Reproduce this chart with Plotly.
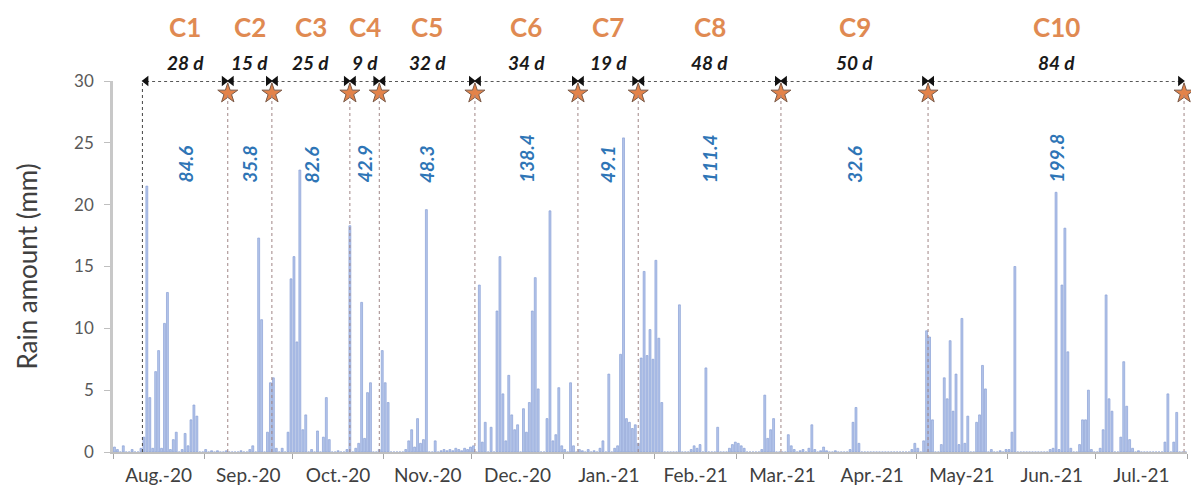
import pandas as pd
import plotly.graph_objects as go

# daily rain (mm), one list per month
aug20 = [0.4, 0.2, 0, 0.5, 0, 0, 0.2, 0, 0, 0.3, 1.2, 21.5, 4.4, 0.3, 6.5, 8.2, 0.3, 10.4, 12.9, 0.2,
         1.0, 1.6, 0, 0.2, 1.5, 0.5, 2.6, 3.8, 2.9, 0, 0]
sep20 = [0.2, 0, 0.1, 0, 0.1, 0, 0, 0.1, 0, 0, 0, 0, 0.1, 0, 0, 0.2, 0.5, 0, 17.3, 10.7,
         0, 1.6, 5.6, 6.0, 0.3, 0, 0.3, 0, 1.6, 14.0]
oct20 = [15.8, 8.9, 22.8, 1.8, 3.0, 0, 0.2, 0, 1.7, 0, 1.2, 4.4, 1.0, 0, 0, 0.1, 0, 0, 0.2, 18.3,
         0, 0.3, 0.7, 12.1, 1.1, 4.8, 5.6, 0, 0, 0.2, 8.2]
nov20 = [5.6, 4.0, 0, 0, 0, 0, 0, 0.2, 0.9, 1.8, 0.4, 2.7, 0.7, 1.0, 19.6, 0, 0, 0.9, 0, 0.1,
         0.2, 0.1, 0.2, 0.1, 0.3, 0.2, 0.1, 0.3, 0.2, 0.4]
dec20 = [0.5, 0, 13.5, 0.8, 2.4, 0, 2.0, 0, 11.4, 15.8, 4.7, 0.9, 6.2, 3.0, 1.8, 2.2, 0, 3.5, 1.6, 4.0,
         11.4, 14.1, 5.1, 0, 0, 2.7, 19.5, 0.9, 1.4, 5.2, 0.5]
jan21 = [0.2, 0, 5.6, 0.5, 0, 0.2, 0.1, 0, 0.2, 0, 0.1, 0, 0.3, 0.9, 0, 6.3, 0, 0.3, 0.5, 7.9,
         25.4, 2.7, 2.4, 1.9, 2.2, 0.7, 7.6, 14.6, 7.8, 9.9, 7.5]
feb21 = [15.5, 9.2, 4.0, 0, 0, 0, 0, 0, 11.9, 0, 0, 0, 0.2, 0.5, 0.3, 0.6, 0, 6.8, 0, 0,
         0, 2.0, 0, 0, 0, 0.3, 0.6, 0.8]
mar21 = [0.7, 0.5, 0.3, 0, 0, 0, 0, 0, 0.2, 4.6, 1.1, 1.8, 2.7, 0, 0, 0, 0, 1.4, 0.5, 0.2,
         0, 0.1, 0.2, 0, 0.3, 2.2, 0.2, 0, 0.1, 0.4, 0.1]
apr21 = [0, 0, 0.1, 0, 0, 0, 0, 0.2, 2.4, 3.6, 0.7, 0, 0, 0, 0, 0, 0, 0, 0, 0,
         0, 0, 0, 0, 0, 0, 0, 0, 0.2, 0.7]
may21 = [0.3, 0, 0.9, 9.8, 9.3, 2.6, 0, 0, 0.6, 6.0, 4.3, 9.0, 3.3, 6.3, 0.6, 10.8, 0.7, 2.9, 0, 0,
         2.4, 3.0, 7.0, 5.1, 0, 0.2, 0, 0, 0.1, 0, 0.2]
jun21 = [0.2, 1.6, 15.0, 0, 0, 0, 0, 0, 0, 0, 0, 0, 0, 0, 0.2, 0.3, 21.0, 0.2, 13.5, 18.1,
         8.1, 0.3, 0, 0, 0.6, 2.6, 2.6, 5.0, 0.2, 0]
jul21 = [0, 0.3, 1.8, 12.7, 4.3, 3.3, 0, 0, 1.2, 7.3, 3.7, 1.0, 0.3, 0, 0.1, 0, 0, 0, 0, 0,
         0, 0, 0, 0.8, 4.7, 0, 0.8, 3.2, 0, 0, 0]

# cycles
cycles = ["C1", "C2", "C3", "C4", "C5", "C6", "C7", "C8", "C9", "C10"]
durations = ["28 d", "15 d", "25 d", "9 d", "32 d", "34 d", "19 d", "48 d", "50 d", "84 d"]
totals = ["84.6", "35.8", "82.6", "42.9", "48.3", "138.4", "49.1", "111.4", "32.6", "199.8"]
bounds = ["2020-08-11", "2020-09-09", "2020-09-24", "2020-10-20 12:00", "2020-10-30 12:00",
          "2020-12-02", "2021-01-06", "2021-01-26 12:00", "2021-03-16", "2021-05-05", "2021-07-31"]

rain = aug20 + sep20 + oct20 + nov20 + dec20 + jan21 + feb21 + mar21 + apr21 + may21 + jun21 + jul21
days = pd.date_range("2020-08-01", periods=len(rain), freq="D")
b = pd.to_datetime(bounds, format="mixed")
mids = [b[i] + (b[i + 1] - b[i]) / 2 for i in range(len(cycles))]

FONT = "Lato"
fig = go.Figure()

fig.add_trace(go.Bar(
    x=days, y=rain, xperiod=86400000, xperiodalignment="middle",
    marker=dict(color="rgba(176,194,234,0.95)", line=dict(color="#8AA0D6", width=0.7)),
    showlegend=False,
))

# vertical dotted separators
for i, d in enumerate(b):
    fig.add_shape(type="line", x0=d, x1=d, y0=0, y1=30 if i == 0 else 29,
                  line=dict(color="#444444" if i == 0 else "#A08686", width=1, dash="dot"))

# double arrows between boundaries
off = pd.Timedelta(hours=30)
for i in range(len(cycles)):
    fig.add_trace(go.Scatter(
        x=[b[i] + off, b[i + 1] - off], y=[30, 30], mode="lines+markers",
        line=dict(color="#222222", width=1.6, dash="dot"),
        marker=dict(symbol=["triangle-left", "triangle-right"], size=9, color="#111111"),
        cliponaxis=False, showlegend=False, hoverinfo="skip",
    ))

# stars at cycle ends
fig.add_trace(go.Scatter(
    x=b[1:], y=[29.0] * (len(b) - 1), mode="markers",
    marker=dict(symbol="star", size=15, color="#E3834A", line=dict(color="#7A5A48", width=1)),
    cliponaxis=False, showlegend=False, hoverinfo="skip",
))

for m, c, d, t in zip(mids, cycles, durations, totals):
    fig.add_annotation(x=m, y=1.146, yref="paper", yanchor="middle", text="<b>%s</b>" % c,
                       showarrow=False, font=dict(family=FONT, size=26, color="#E08A52"))
    fig.add_annotation(x=m, y=1.051, yref="paper", yanchor="middle", text="<b><i>%s</i></b>" % d,
                       showarrow=False, font=dict(family=FONT, size=19, color="#1A1A1A"))
    fig.add_annotation(x=m, y=21.6, text="<b><i>%s</i></b>" % t, showarrow=False, textangle=-90,
                       yanchor="bottom", font=dict(family=FONT, size=19, color="#2E75B6"))

fig.update_layout(
    width=1191, height=480,
    margin=dict(l=105, r=12, t=73, b=36),
    plot_bgcolor="white", paper_bgcolor="white",
    bargap=0.35,
    font=dict(family=FONT),
)
fig.update_xaxes(
    type="date", range=["2020-08-01", "2021-08-01"], automargin=False,
    tick0="2020-08-01", dtick="M1", tickformat="%b.-%y", ticklabelmode="period",
    labelalias={"May.-21": "May-21"},
    ticks="outside", ticklen=5, tickcolor="#A6A6A6",
    showline=True, linecolor="#BFBFBF", linewidth=1.5,
    showgrid=False, tickfont=dict(size=19, color="#404040"),
)
fig.update_yaxes(
    range=[0, 30], dtick=5, ticks="outside", ticklen=6, tickcolor="#BFBFBF",
    ticklabelstandoff=7, automargin=False,
    showline=True, linecolor="#C8C8C8", linewidth=2.5, showgrid=False, zeroline=False,
    tickfont=dict(size=17, color="#595959"),
    title=dict(text="Rain amount (mm)", font=dict(size=26, color="#404040"), standoff=30),
)

fig.write_html("out.html")
